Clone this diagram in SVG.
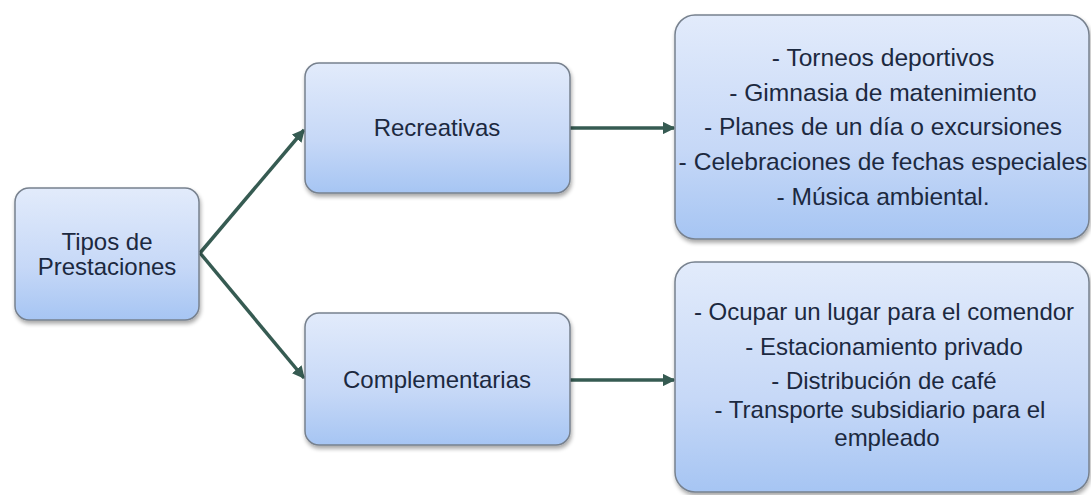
<svg xmlns="http://www.w3.org/2000/svg" width="1091" height="495" viewBox="0 0 1091 495">
<style>
.box{fill:url(#g);stroke:#77818e;stroke-width:1.5;filter:url(#sh)}
.t{font-family:"Liberation Sans",Arial,sans-serif;font-size:24px;fill:#1c2940;text-anchor:middle}
.b{font-size:24.6px}
.c{stroke:#365b52;stroke-width:3.5;fill:none;marker-end:url(#ah)}
</style>
<defs>
<linearGradient id="g" x1="0" y1="0" x2="0" y2="1">
<stop offset="0" stop-color="#e2ebfb"/>
<stop offset="0.6" stop-color="#c6d8f7"/>
<stop offset="1" stop-color="#a6c5f3"/>
</linearGradient>
<filter id="sh" x="-10%" y="-10%" width="125%" height="130%">
<feGaussianBlur in="SourceAlpha" stdDeviation="2"/>
<feOffset dx="1" dy="3" result="b"/>
<feComponentTransfer><feFuncA type="linear" slope="0.35"/></feComponentTransfer>
<feMerge><feMergeNode/><feMergeNode in="SourceGraphic"/></feMerge>
</filter>
<marker id="ah" viewBox="0 0 10 10" refX="9" refY="5" markerWidth="3.6" markerHeight="3.6" orient="auto" markerUnits="strokeWidth">
<path d="M0,0 L10,5 L0,10 z" fill="#365b52"/>
</marker>
</defs>
<g id="connectors">
<path class="c" d="M200,253 L304,130"/>
<path class="c" d="M200,253 L304,378"/>
<path class="c" d="M570,128 L674,128"/>
<path class="c" d="M570,380 L674,380"/>
</g>
<g id="tipos">
<rect class="box" x="15" y="188" width="184" height="132" rx="14"/>
<text class="t" x="107" y="250">Tipos de<tspan x="107" y="275">Prestaciones</tspan></text>
</g>
<g id="recreativas">
<rect class="box" x="305" y="63" width="265" height="130" rx="14"/>
<text class="t" x="437" y="136">Recreativas</text>
</g>
<g id="complementarias">
<rect class="box" x="305" y="313" width="265" height="132" rx="14"/>
<text class="t" x="437" y="388">Complementarias</text>
</g>
<g id="recreativas-items">
<rect class="box" x="675" y="15" width="414" height="224" rx="20"/>
<text class="t b" x="883" y="66">- Torneos deportivos</text>
<text class="t b" x="883" y="101">- Gimnasia de matenimiento</text>
<text class="t b" x="883" y="135">- Planes de un día o excursiones</text>
<text class="t b" x="883" y="170">- Celebraciones de fechas especiales</text>
<text class="t b" x="883" y="205">- Música ambiental.</text>
</g>
<g id="complementarias-items">
<rect class="box" x="675" y="262" width="414" height="230" rx="20"/>
<text class="t" x="884" y="320">- Ocupar un lugar  para el comendor</text>
<text class="t" x="884" y="355">- Estacionamiento privado</text>
<text class="t" x="884" y="389">- Distribución de café</text>
<text class="t" x="880" y="418">- Transporte subsidiario para el</text>
<text class="t" x="887" y="446">empleado</text>
</g>
</svg>
